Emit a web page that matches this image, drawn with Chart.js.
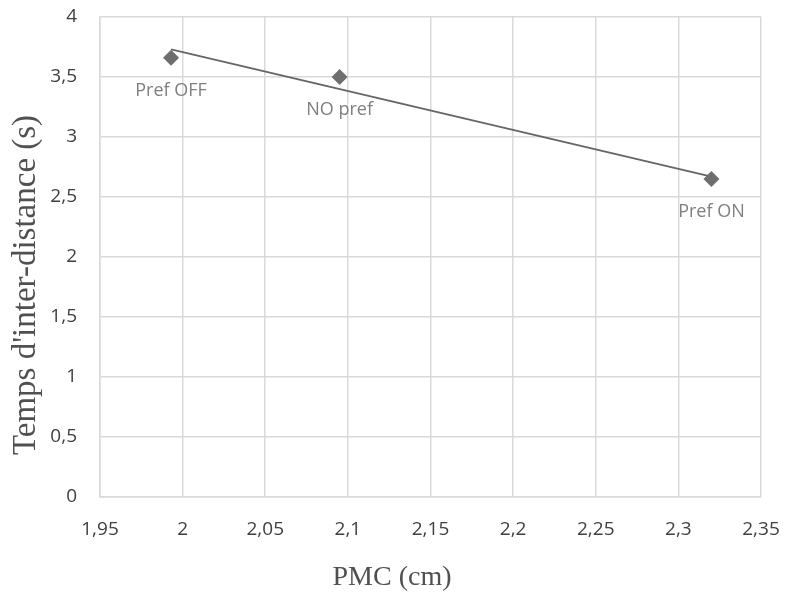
<!DOCTYPE html>
<html>
<head>
<meta charset="utf-8">
<script src="https://cdn.jsdelivr.net/npm/chart.js@4/dist/chart.umd.min.js"></script>
<style>
    html, body { margin: 0; padding: 0; background: #fff; }
    #wrap { width: 786px; height: 592px; }
</style>
</head>
<body>
<div id="wrap"><canvas id="chart"></canvas></div>
<script>
// Données
const pointLabels = ["Pref OFF", "NO pref", "Pref ON"];
const pmcValues = [1.993, 2.095, 2.32];
const tempsValues = [3.66, 3.5, 2.65];
// Courbe de tendance (extrémités lues)
const trendX = [1.993, 2.32];
const trendY = [3.73, 2.67];

const xTicks = [1.95, 2, 2.05, 2.1, 2.15, 2.2, 2.25, 2.3, 2.35];
const yTicks = [0, 0.5, 1, 1.5, 2, 2.5, 3, 3.5, 4];
const xTitle = "PMC (cm)";
const yTitle = "Temps d'inter-distance (s)";

const fmt = v => String(Math.round(v * 100) / 100).replace(".", ",");

// Étiquettes sous les points + titres des axes
const labelPlugin = {
    id: "pointLabels",
    afterDatasetsDraw(chart) {
        const ctx = chart.ctx;
        const xs = chart.scales.x, ys = chart.scales.y;
        ctx.save();
        ctx.font = "18px 'Open Sans'";
        ctx.fillStyle = "#7f7f7f";
        ctx.textAlign = "center";
        ctx.textBaseline = "middle";
        pointLabels.forEach((lbl, i) => {
            ctx.fillText(lbl, xs.getPixelForValue(pmcValues[i]), ys.getPixelForValue(tempsValues[i]) + 33);
        });
        ctx.restore();
    },
    afterDraw(chart) {
        const ctx = chart.ctx;
        ctx.save();
        ctx.fillStyle = "#505050";
        ctx.textAlign = "center";
        ctx.textBaseline = "alphabetic";
        ctx.font = "28px 'Liberation Serif'";
        ctx.fillText(xTitle, 392, 585);
        ctx.translate(35, 285);
        ctx.rotate(-Math.PI / 2);
        ctx.font = "33px 'Liberation Serif'";
        ctx.fillText(yTitle, 0, 0);
        ctx.restore();
    }
};

new Chart(document.getElementById("chart").getContext("2d"), {
    type: "scatter",
    data: {
        datasets: [
            {
                label: "Tendance",
                data: trendX.map((x, i) => ({ x, y: trendY[i] })),
                showLine: true,
                borderColor: "#666666",
                borderWidth: 2,
                pointRadius: 0,
                order: 2
            },
            {
                label: "Temps",
                data: pmcValues.map((x, i) => ({ x, y: tempsValues[i] })),
                pointStyle: "rectRot",
                pointRadius: 8,
                backgroundColor: "#6e6e6e",
                borderColor: "#6e6e6e",
                borderWidth: 0,
                order: 1
            }
        ]
    },
    options: {
        responsive: true,
        maintainAspectRatio: false,
        animation: false,
        layout: { padding: { top: 17, right: 25, left: 0, bottom: 0 } },
        plugins: { legend: { display: false }, tooltip: { enabled: false } },
        scales: {
            x: {
                type: "linear",
                min: 1.95, max: 2.35,
                afterBuildTicks: s => { s.ticks = xTicks.map(v => ({ value: v })); },
                afterFit: s => { s.height = 95; s.paddingLeft = 0; s.paddingRight = 0; },
                grid: { color: "#d9d9d9", lineWidth: 1.5, drawTicks: false },
                border: { color: "#d9d9d9", width: 1.5 },
                ticks: {
                    padding: 21,
                    color: "#404040",
                    font: { family: "'Open Sans'", size: 19 },
                    callback: v => fmt(v)
                }
            },
            y: {
                min: 0, max: 4,
                afterBuildTicks: s => { s.ticks = yTicks.map(v => ({ value: v })); },
                afterFit: s => { s.width = 100; s.paddingTop = 0; s.paddingBottom = 0; },
                grid: { color: "#d9d9d9", lineWidth: 1.5, drawTicks: false },
                border: { color: "#d9d9d9", width: 1.5 },
                ticks: {
                    padding: 23,
                    color: "#404040",
                    font: { family: "'Open Sans'", size: 19 },
                    callback: v => fmt(v)
                }
            }
        }
    },
    plugins: [labelPlugin]
});
</script>
</body>
</html>
